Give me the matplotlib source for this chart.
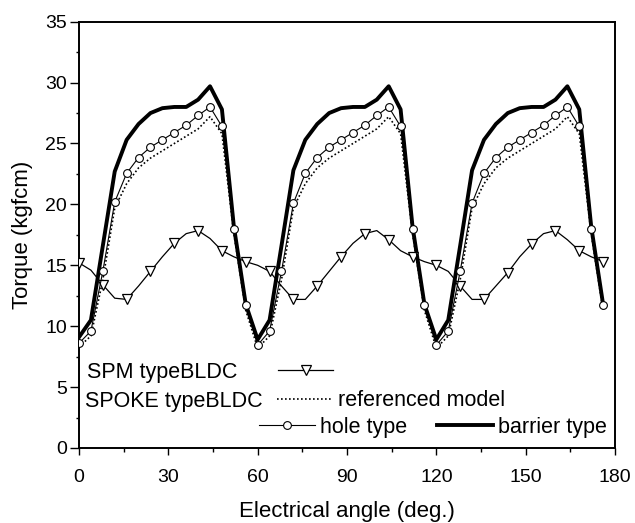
import numpy as np
import matplotlib
matplotlib.use("Agg")
import matplotlib.pyplot as plt
from matplotlib.legend import Legend
from matplotlib.ticker import MultipleLocator

plt.rcParams['font.family'] = ['Liberation Sans', 'DejaVu Sans']

# ---- data (electrical angle, deg; torque, kgfcm) ----
angle = np.arange(0, 177, 4)

spm = [15.2, 14.6, 13.4, 12.3, 12.2, 13.3, 14.5, 15.7, 16.8, 17.6, 17.85, 17.2, 16.2, 15.7, 15.3,
       15.0, 14.5, 13.3, 12.2, 12.2, 13.3, 14.5, 15.7, 16.8, 17.6, 17.85, 17.1, 16.2, 15.7, 15.3,
       15.0, 14.5, 13.3, 12.2, 12.2, 13.3, 14.4, 15.7, 16.75, 17.6, 17.85, 17.1, 16.2, 15.7, 15.3]

referenced = [8.3, 9.2, 13.8, 19.7, 21.7, 23.0, 23.8, 24.4, 25.0, 25.6, 26.2, 27.2, 25.8, 17.6, 11.3,
              8.2, 9.2, 13.8, 19.7, 21.7, 23.0, 23.8, 24.4, 25.0, 25.6, 26.2, 27.2, 25.8, 17.6, 11.3,
              8.2, 9.2, 13.8, 19.7, 21.7, 23.0, 23.8, 24.4, 25.0, 25.6, 26.2, 27.2, 25.8, 17.6, 11.3]

hole = [8.6, 9.6, 14.5, 20.2, 22.55, 23.85, 24.7, 25.3, 25.9, 26.5, 27.3, 28.0, 26.4, 18.0, 11.7,
        8.45, 9.6, 14.5, 20.1, 22.55, 23.85, 24.7, 25.3, 25.9, 26.5, 27.3, 28.0, 26.4, 18.0, 11.7,
        8.45, 9.6, 14.5, 20.1, 22.55, 23.85, 24.7, 25.3, 25.9, 26.5, 27.3, 28.0, 26.4, 18.0, 11.7]

barrier = [9.1, 10.5, 16.6, 22.7, 25.3, 26.6, 27.5, 27.9, 28.0, 28.0, 28.6, 29.7, 27.8, 18.2, 11.8,
           8.9, 10.5, 16.6, 22.8, 25.3, 26.6, 27.5, 27.9, 28.0, 28.0, 28.6, 29.7, 27.8, 18.2, 11.8,
           8.9, 10.5, 16.6, 22.8, 25.3, 26.6, 27.5, 27.9, 28.0, 28.0, 28.6, 29.7, 27.8, 18.2, 11.8]

xticks = [0, 30, 60, 90, 120, 150, 180]
yticks = [0, 5, 10, 15, 20, 25, 30, 35]

# ---- figure ----
W, H = 635, 523
fig = plt.figure(figsize=(W / 100, H / 100), dpi=100)
ax = fig.add_axes([79 / W, 1 - 448 / H, 536 / W, 426.3 / H])

l_spm, = ax.plot(angle, spm, color='black', lw=0.9, marker='v', markevery=2,
                 ms=7.5, mfc='white', mec='black', mew=0.9, zorder=3)
l_ref, = ax.plot(angle, referenced, color='black', lw=1.2, ls=(0, (1, 1.4)), zorder=2)
l_hole, = ax.plot(angle, hole, color='black', lw=0.8, marker='o', ms=5.6,
                  mfc='white', mec='black', mew=0.8, zorder=4)
l_bar, = ax.plot(angle, barrier, color='black', lw=2.8, zorder=2.5)

ax.set_xlim(0, 180)
ax.set_ylim(0, 35)
ax.set_xticks(xticks)
ax.set_yticks(yticks)
ax.xaxis.set_minor_locator(MultipleLocator(15))
ax.yaxis.set_minor_locator(MultipleLocator(2.5))
ax.tick_params(axis='x', which='major', direction='out', length=5, width=1.0,
               labelsize=14, pad=10, top=False)
ax.tick_params(axis='y', which='major', direction='out', length=6.5, width=1.0,
               labelsize=14, pad=2, right=False)
ax.tick_params(axis='x', which='minor', direction='out', length=3, width=1.0, top=False)
ax.tick_params(axis='y', which='minor', direction='out', length=2.2, width=1.0, right=False)
for s in ax.spines.values():
    s.set_linewidth(1.4)

ax.set_xlabel('Electrical angle (deg.)', fontsize=16, labelpad=11)
ax.set_ylabel('Torque (kgfcm)', fontsize=16, labelpad=9)

# ---- legend (Origin-style, three rows) ----
fs = 15.5
fpx = fs * 100 / 72.0


def fx(px):
    return (px - 79) / 536.0


def fy(py):
    return (448 - py) / 426.3


desc = 0.212 * fpx

leg1 = Legend(ax, [l_spm], ['SPM typeBLDC'], loc='lower right',
              bbox_to_anchor=(fx(333), fy(378.3 + desc)), bbox_transform=ax.transAxes,
              frameon=False, fontsize=fs, markerfirst=False, numpoints=1,
              handlelength=55 / fpx, handletextpad=41 / fpx, borderpad=0, borderaxespad=0)
ax.add_artist(leg1)

leg2 = Legend(ax, [l_ref], ['referenced model'], loc='lower left',
              bbox_to_anchor=(fx(277), fy(406.7 + desc)), bbox_transform=ax.transAxes,
              frameon=False, fontsize=fs, numpoints=1,
              handlelength=55 / fpx, handletextpad=6 / fpx, borderpad=0, borderaxespad=0)
ax.add_artist(leg2)

ax.text(fx(85), fy(406.7), 'SPOKE typeBLDC', transform=ax.transAxes,
        fontsize=fs, ha='left', va='baseline')

leg3 = Legend(ax, [l_hole, l_bar], ['hole type', 'barrier type'], loc='lower left',
              bbox_to_anchor=(fx(259), fy(433.3 + desc)), bbox_transform=ax.transAxes,
              frameon=False, fontsize=fs, numpoints=1, ncol=2,
              handlelength=56 / fpx, handletextpad=5 / fpx, columnspacing=30 / fpx,
              borderpad=0, borderaxespad=0)
ax.add_artist(leg3)

fig.savefig('out.png', dpi=100)
